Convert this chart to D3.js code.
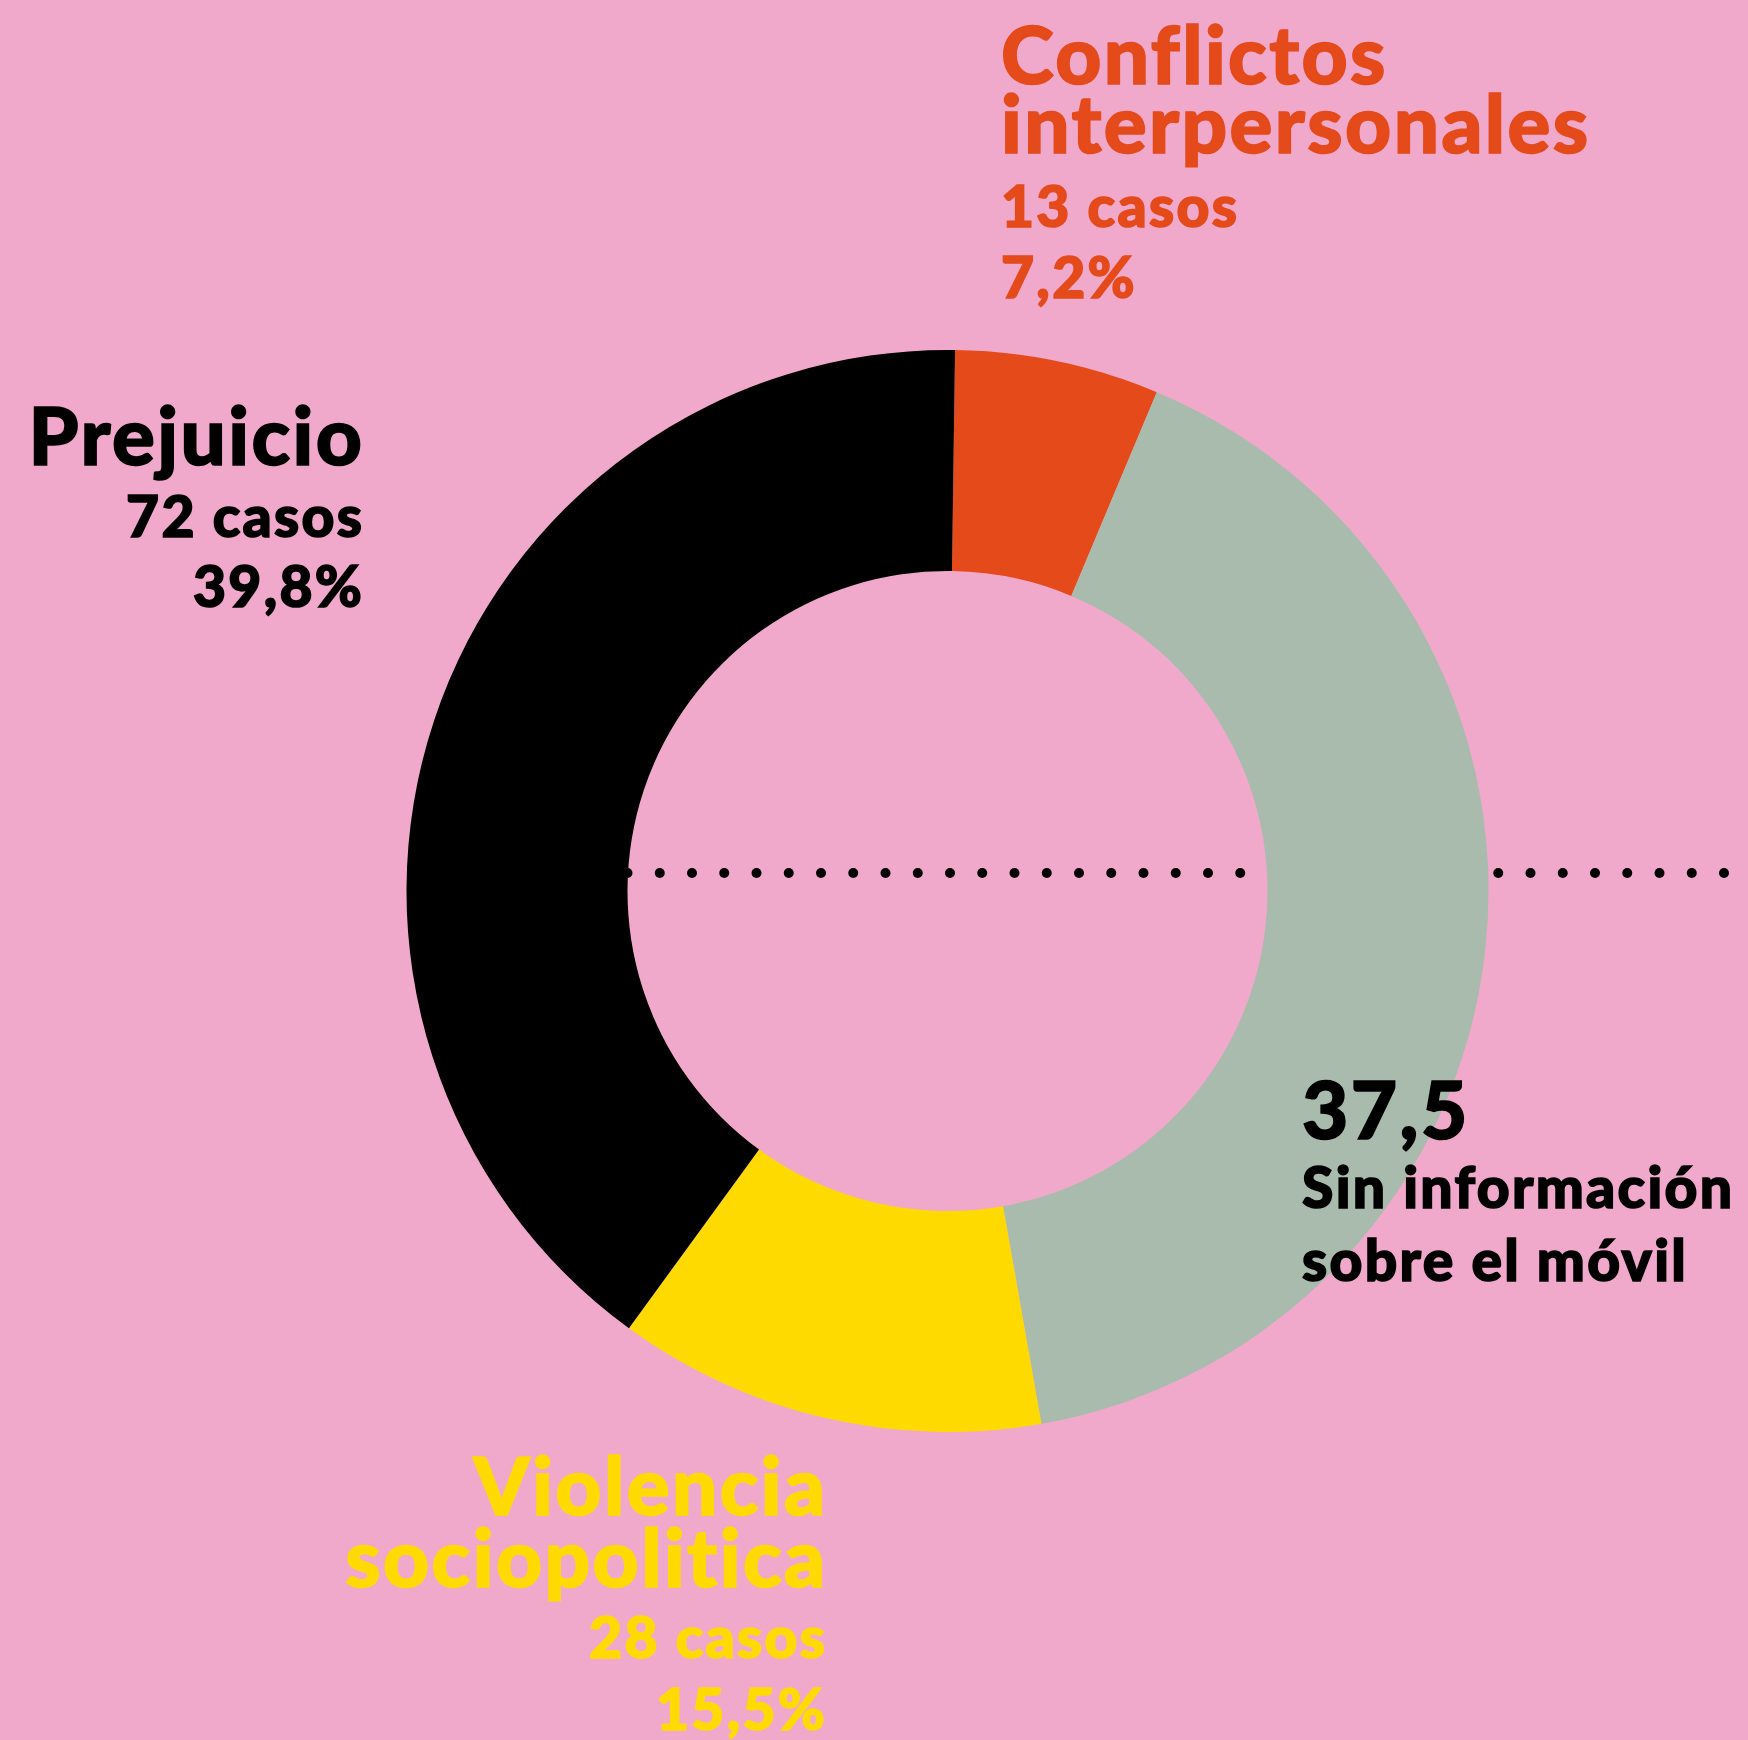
<!DOCTYPE html>
<html>
<head>
<meta charset="utf-8">
<script src="https://cdn.jsdelivr.net/npm/d3@7"></script>
<style>
  body { margin: 0; background: #F0A9CB; }
  svg { display: block; }
  text { font-family: Lato, "Open Sans", sans-serif; font-weight: 900; }
</style>
</head>
<body>
<div id="graph"></div>
<script>
// données
const categories = ["Conflictos interpersonales", "Sin información sobre el móvil", "Violencia sociopolitica", "Prejuicio"];
const titleLines = [["Conflictos", "interpersonales"], ["Sin información", "sobre el móvil"], ["Violencia", "sociopolitica"], ["Prejuicio"]];
const casos = [13, null, 28, 72];
const pct = [7.2, 37.5, 15.5, 39.8];
// part angulaire des secteurs telle que dessinée sur l'image (en %)
const arcShare = [6.1, 40.9, 12.8, 40.2];
const colors = ["#E44A1A", "#A9BBAC", "#FFDA00", "#000000"];

const width = 1748;
const height = 1740;
const cx = 947.5, cy = 891;
const outerR = 541, innerR = 320;

const svg = d3.select("#graph")
  .append("svg")
  .attr("width", width)
  .attr("height", height)
  .attr("viewBox", [0, 0, width, height]);

svg.append("rect").attr("width", width).attr("height", height).attr("fill", "#F0A9CB");

// ligne pointillée (derrière l'anneau)
const dotY = 873, dotStep = 32.25, dotEnd = 1724;
const dots = d3.range(0, 35).map(i => dotEnd - i * dotStep);
svg.append("g")
  .selectAll("circle")
  .data(dots)
  .join("circle")
  .attr("cx", d => d)
  .attr("cy", dotY)
  .attr("r", 5)
  .attr("fill", "#000");

// anneau
const start = 0.8 * Math.PI / 180;
const pie = d3.pie().sort(null).value(d => d).startAngle(start).endAngle(start + 2 * Math.PI);
const arc = d3.arc().innerRadius(innerR).outerRadius(outerR);

svg.append("g")
  .attr("transform", `translate(${cx}, ${cy})`)
  .selectAll("path")
  .data(pie(arcShare))
  .join("path")
  .attr("d", arc)
  .attr("fill", (d, i) => colors[i]);

// étiquettes
const fmt = v => d3.format(".1f")(v).replace(".", ",");
const labelPos = [
  { x: 1001, anchor: "start", base: [84, 153, 227, 298] },
  { x: 1302, anchor: "start", base: [1139, 1208, 1281] },
  { x: 825, anchor: "end", base: [1515, 1587, 1658, 1730] },
  { x: 362, anchor: "end", base: [465, 537, 607] }
];

categories.forEach((c, i) => {
  const p = labelPos[i];
  const col = colors[i] === "#A9BBAC" ? "#000" : colors[i];
  const g = svg.append("g").attr("fill", col).attr("stroke", col).attr("stroke-width", 1.6);
  let lines;
  if (casos[i] === null) {
    lines = [{ t: fmt(pct[i]), s: 80 }].concat(titleLines[i].map(t => ({ t, s: 57 })));
  } else {
    lines = titleLines[i].map(t => ({ t, s: 80 }))
      .concat([{ t: `${casos[i]} casos`, s: 57 }, { t: `${fmt(pct[i])}%`, s: 57 }]);
  }
  lines.forEach((l, j) => {
    const ls = l.s > 60 ? 2.4 : 2.3;
    g.append("text")
      .attr("x", p.anchor === "end" ? p.x + ls : p.x)
      .attr("y", p.base[j])
      .attr("text-anchor", p.anchor)
      .attr("font-size", l.s)
      .attr("letter-spacing", ls)
      .text(l.t);
  });
});
</script>
</body>
</html>
